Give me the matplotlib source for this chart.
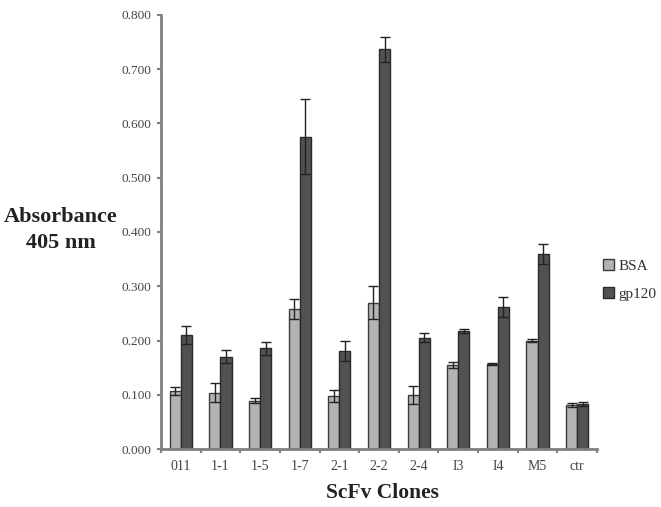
import matplotlib
matplotlib.use("Agg")
import matplotlib.pyplot as plt
import numpy as np

clones = ["011", "1-1", "1-5", "1-7", "2-1", "2-2", "2-4", "I3", "I4", "M5", "ctr"]
bsa = [0.107, 0.104, 0.089, 0.258, 0.098, 0.270, 0.100, 0.155, 0.156, 0.200, 0.081]
bsa_err = [0.007, 0.017, 0.005, 0.019, 0.011, 0.030, 0.017, 0.006, 0.002, 0.002, 0.004]
gp120 = [0.210, 0.170, 0.186, 0.576, 0.181, 0.737, 0.205, 0.218, 0.262, 0.359, 0.083]
gp120_err = [0.017, 0.012, 0.012, 0.069, 0.018, 0.023, 0.008, 0.004, 0.019, 0.018, 0.004]
yticks = [0.0, 0.1, 0.2, 0.3, 0.4, 0.5, 0.6, 0.7, 0.8]

serif = ["Liberation Serif", "DejaVu Serif"]

fig = plt.figure(figsize=(6.61, 5.07), dpi=100)
ax = fig.add_axes([161/661, 1-449/507, (597-161)/661, (449-15)/507])

x = np.arange(len(clones))
w = 0.28
ekw = dict(ecolor="#222222", elinewidth=1.0, capsize=3.5, capthick=1.0)
ax.bar(x - w/2, bsa, w, yerr=bsa_err, color="#b3b3b3", edgecolor="#3a3a3a",
       linewidth=1.0, label="BSA", error_kw=ekw, zorder=2)
ax.bar(x + w/2, gp120, w, yerr=gp120_err, color="#525252", edgecolor="#2a2a2a",
       linewidth=1.0, label="gp120", error_kw=ekw, zorder=2)

ax.set_xlim(-0.5, len(clones) - 0.5)
ax.set_ylim(0, 0.8)
ax.set_yticks(yticks)
ax.set_yticklabels([f"{v:.3f}" for v in yticks], fontfamily=serif, fontsize=9.5, color="#444444")
ax.set_xticks(x)
ax.set_xticklabels(clones, fontfamily=serif, fontsize=10, color="#444444")
ax.set_xticks(np.arange(-0.5, len(clones)), minor=True)
ax.tick_params(axis="x", which="major", length=0, pad=8)
ax.tick_params(axis="x", which="minor", length=3, width=1.5, color="#808080", direction="out")
ax.tick_params(axis="y", length=3, width=1.5, color="#808080", direction="out", pad=4)

for s in ["top", "right"]:
    ax.spines[s].set_visible(False)
for s in ["left", "bottom"]:
    ax.spines[s].set_color("#808080")
    ax.spines[s].set_linewidth(2)

fig.text(61/661, 1-230/507, "Absorbance\n405 nm", ha="center", va="center",
         fontfamily=serif, fontweight="bold", fontsize=16, color="#222222", linespacing=1.45)
fig.text(382/661, 1-493/507, "ScFv Clones", ha="center", va="center",
         fontfamily=serif, fontweight="bold", fontsize=15.5, color="#222222")

leg = fig.legend(loc="center left", bbox_to_anchor=(597/661, 1-280/507), frameon=False,
                 prop={"family": serif, "size": 11}, handlelength=0.7, handleheight=0.7,
                 handletextpad=0.3, labelspacing=0.9, borderaxespad=0)
for t in leg.get_texts():
    t.set_color("#333333")

fig.savefig("out.png", dpi=100, facecolor="white")
